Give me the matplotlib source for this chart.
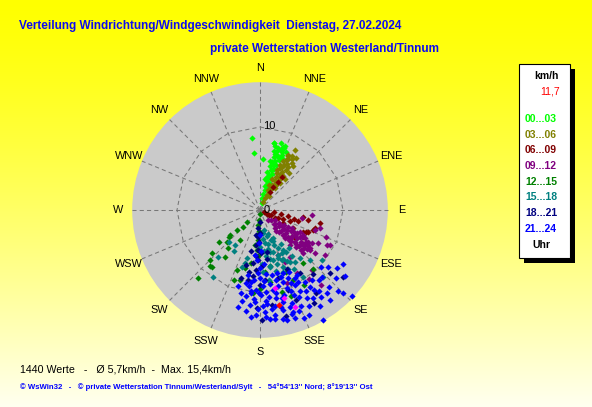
import numpy as np
import matplotlib
matplotlib.use("Agg")
import matplotlib.pyplot as plt
from matplotlib.patches import Circle, Rectangle
from matplotlib import font_manager

# ---------------- data (direction in degrees from N, speed in km/h) ----------------
COMPASS = ["N", "NNE", "NE", "ENE", "E", "ESE", "SE", "SSE",
           "S", "SSW", "SW", "WSW", "W", "WNW", "NW", "NNW"]
PERIODS = ["00...03", "03...06", "06...09", "09...12",
           "12...15", "15...18", "18...21", "21...24"]
PERIOD_COLORS = ["#00ff00", "#808000", "#800000", "#800080",
                 "#008000", "#008080", "#000080", "#0000ff"]

DIR_00_03 = [10,14,12,16,13,17,14,18,15,19,16,20,17,21,15,18,22,16,19,13,
             20,12,17,21,15,11,13,11,9,23,24,354,354,3,21,12,16,8,19,14,
             12,17,14,19,16,21,18,13]
SPD_00_03 = [2.0,2.5,3.0,3.2,3.6,4.0,4.3,4.6,5.0,5.2,5.6,5.8,6.2,6.4,6.6,6.9,7.2,7.4,7.7,7.9,
             8.1,8.3,8.5,8.0,7.0,6.0,5.4,4.7,3.8,6.8,7.6,8.7,6.9,6.2,8.3,8.2,0.9,1.5,2.8,6.0,
             4.1,5.0,5.9,6.7,7.8,7.5,3.4,7.3]

DIR_03_06 = [18,22,25,28,22,30,25,32,27,22,33,29,24,34,30,26,33,28,31,25,
             34,29,27,32,30,37,39,27,27,35,38,36,20,24,31,35,26,31,
             29,33,28,31,23]
SPD_03_06 = [1.0,1.5,2.0,2.4,2.6,3.0,3.3,3.6,3.9,4.0,4.3,4.6,4.9,5.0,5.3,5.6,5.8,6.1,6.4,6.5,
             6.8,7.0,7.3,7.2,8.4,6.6,4.8,7.5,5.8,7.6,5.6,4.0,3.2,6.0,2.0,3.2,4.4,5.0,
             3.5,6.2,6.8,7.6,5.2]

DIR_06_09 = [115,117,115,118,98,101,102,105,106,102,108,115,122,99,102,111,117,129,119,116,
             112,120,110,30,32,34,28,113,118]
SPD_06_09 = [0.5,1.0,1.5,2.0,1.7,2.6,3.4,4.2,4.8,5.9,7.0,6.4,6.1,5.2,7.4,6.8,5.8,5.4,4.5,6.1,
             3.0,3.2,3.8,3.2,4.0,4.8,2.5,2.4,1.2]

DIR_09_12 = [141,130,124,135,140,124,130,121,135,128,137,121,131,125,134,122,129,135,122,127,
             132,123,128,130,122,125,129,124,133,136,138,126,133,120,126,131,
             127,132,126,128,132,124,136,139,120,123,127,130,134,119,140,144,
             95,101,107,117,125,128,135,147,141,150,139,118,120,129,158,154,110,112,145,160]
SPD_09_12 = [1.5,1.8,2.2,2.4,2.8,2.8,3.0,3.4,3.5,3.7,4.1,3.9,4.2,4.5,4.7,4.9,5.0,5.3,5.3,5.6,
             5.7,6.0,6.2,6.4,6.4,6.7,6.8,7.0,6.0,5.0,4.5,3.3,2.5,4.4,7.2,7.0,
             4.0,5.0,5.2,6.6,6.4,5.8,6.2,5.6,6.0,7.4,7.6,7.4,6.9,5.5,3.5,3.2,
             6.3,5.1,7.5,9.4,9.5,8.4,7.3,6.7,11.6,8.8,9.6,9.1,8.0,7.7,5.8,7.0,7.0,8.6,10.2,9.4]

DIR_12_15 = [227,225,229,230,226,220,228,225,222,222,201,217,196,185,229,214,232,220,
             185,184,186,183,187,184,188,185,183,
             157,141,138,155,172,165,190,195,175,170,200,180,160,150]
SPD_12_15 = [2.1,2.9,3.7,4.7,5.5,6.0,7.8,8.5,9.0,11.1,7.7,7.1,8.8,10.0,5.0,4.3,6.3,9.0,
             0.5,1.2,1.8,2.5,3.0,3.6,4.2,4.8,5.5,
             8.1,8.2,9.5,9.3,8.8,10.2,6.5,7.2,7.5,6.8,9.0,9.5,11.0,10.5]

DIR_15_18 = [224,222,215,216,196,170,156,150,129,137,147,155,173,212,198,195,
             170,165,160,172,158,168,155,163,150,172,158,165,148,155,162,170,152,158,145,165,
             175,178,167,175,180,177,160,150,
             162,157,148,153,143,160,168,166,146,155,163,140,135,173]
SPD_15_18 = [5.3,7.6,9.9,5.2,6.6,7.0,6.6,7.2,9.6,11.1,9.6,3.7,2.8,5.8,7.2,6.0,
             2.5,3.2,3.8,4.0,4.5,4.8,5.0,5.3,5.5,5.6,5.9,6.2,6.0,6.5,6.8,6.9,7.0,7.4,6.8,7.6,
             5.0,6.5,4.2,3.5,4.5,7.5,8.0,8.2,
             3.0,4.1,4.8,5.8,5.8,6.2,6.0,5.2,7.5,7.9,8.4,7.5,8.5,8.5]

DIR_18_21 = [182,185,180,184,181,186,183,179,185,182,188,178,184,190,186,176,192,189,194,180,
             196,172,179,166,150,129,190,171,132,148,146,158,173,161,182,165,155,140]
SPD_18_21 = [1.5,2.2,2.8,3.3,3.8,4.3,4.8,5.2,5.6,6.0,6.4,6.8,7.2,7.6,8.0,8.4,5.0,3.0,6.8,9.0,
             8.5,6.0,13.3,13.1,12.9,12.9,8.6,5.1,11.4,9.0,12.1,11.7,11.5,10.2,11.8,8.5,7.8,10.0]

DIR_21_24 = [190,185,180,175,170,165,160,155,150,188,183,178,172,167,162,157,152,148,
             189,184,179,174,169,164,159,154,150,186,181,176,171,166,161,156,152,
             182,177,172,167,162,157,175,168,163,172,
             187,177,167,158,181,171,161,176,166,186,
             191,186,176,163,153,147,158,173,168,163,178,183,188,159,153,149,144,141,170,182,
             191,155,143,137,133,
             193,162,158,150,148,142,136,133,123,130,127,135,138,146,193,196,145,140,132,128,
             185,177,166,155,
             180,182,178,184,180,176,186]
SPD_21_24 = [8.0,8.5,8.2,7.8,8.0,7.9,8.1,8.3,9.0,9.3,9.6,9.2,9.0,9.4,9.1,9.6,9.8,10.2,
             10.5,10.8,10.3,10.6,10.2,10.7,10.4,10.9,11.2,11.5,11.9,11.3,11.7,11.4,11.8,11.5,12.0,
             12.6,12.3,12.8,12.4,12.9,12.5,13.2,13.4,13.1,13.3,
             8.8,8.6,8.7,8.9,10.0,9.7,9.9,11.0,10.9,10.1,
             9.0,9.8,9.9,8.5,9.2,11.0,11.0,12.0,11.9,12.2,11.6,11.1,12.3,13.0,13.0,12.3,12.0,12.8,10.8,7.6,
             11.2,10.0,10.5,11.0,10.0,
             12.0,13.7,14.0,15.3,13.7,13.7,13.5,15.2,11.9,10.7,11.6,14.1,12.5,11.6,10.3,9.5,12.8,11.0,12.3,13.0,
             13.0,12.9,13.6,14.0,
             3.0,4.0,5.0,6.0,7.0,6.5,5.5]

DIR_LATEST = [169, 165, 160]
SPD_LATEST = [9.6, 11.0, 12.5]
DIR_NOW = [169]
SPD_NOW = [11.7]

GROUPS = [(DIR_00_03, SPD_00_03), (DIR_03_06, SPD_03_06), (DIR_06_09, SPD_06_09),
          (DIR_09_12, SPD_09_12), (DIR_12_15, SPD_12_15), (DIR_15_18, SPD_15_18),
          (DIR_18_21, SPD_18_21), (DIR_21_24, SPD_21_24)]

R_MAX = 15.4
RING = 10
N_VALUES = 1440
MEAN_SPEED = "5,7"
MAX_SPEED = "15,4"
NOW_SPEED = "11,7"

TITLE = "Verteilung Windrichtung/Windgeschwindigkeit  Dienstag, 27.02.2024"
SUBTITLE = "private Wetterstation Westerland/Tinnum"
FOOTER = ("\u00a9 WsWin32   -   \u00a9 private Wetterstation Tinnum/Westerland/Sylt   -   "
          "54\u00b054'13'' Nord; 8\u00b019'13'' Ost")

# ---------------- fonts ----------------
avail = {f.name for f in font_manager.fontManager.ttflist}
def pick(names):
    for n in names:
        if n in avail:
            return n
    return "DejaVu Sans"
SANS = pick(["Liberation Sans", "Arimo", "DejaVu Sans"])

# ---------------- figure ----------------
W, H = 592, 407
fig = plt.figure(figsize=(W / 100, H / 100), dpi=100)

bg = fig.add_axes([0, 0, 1, 1])
bg.set_xlim(0, W)
bg.set_ylim(H, 0)
bg.set_axis_off()
t = np.linspace(0, 1, 256)[:, None]
grad = np.zeros((256, 1, 3))
grad[..., 0] = 1.0
grad[..., 1] = 1.0
grad[..., 2] = 0.94 * t ** 1.3
bg.imshow(grad, extent=[0, W, H, 0], aspect="auto", zorder=0, interpolation="bilinear")

# titles
bg.text(19, 25.5, TITLE, color="#0c0cf0", fontsize=8.45, fontweight="bold",
        family=SANS, ha="left", va="center")
bg.text(210, 49, SUBTITLE, color="#0c0cf0", fontsize=8.45, fontweight="bold",
        family=SANS, ha="left", va="center")

# bottom texts
bg.text(20, 370, f"{N_VALUES} Werte   -   \u00d8 {MEAN_SPEED}km/h  -  Max. {MAX_SPEED}km/h",
        color="black", fontsize=7.7, family=SANS, ha="left", va="center")
bg.text(20, 387, FOOTER, color="#0000ff", fontsize=5.6, fontweight="bold",
        family=SANS, ha="left", va="center")

# legend box
bg.add_patch(Rectangle((524, 69), 51, 194, facecolor="black", edgecolor="none", zorder=2))
bg.add_patch(Rectangle((519, 64), 51, 194, facecolor="white", edgecolor="black",
                       linewidth=0.8, zorder=3))
bg.text(546, 76, "km/h", color="black", fontsize=7.5, fontweight="bold",
        family=SANS, ha="center", va="center", zorder=4)
bg.text(550, 92, NOW_SPEED, color="#ff0000", fontsize=7.5, family=SANS,
        ha="center", va="center", zorder=4)
ys = [119.5, 134.5, 150, 166, 182, 197.5, 213.5, 229.5]
for lab, col, yy in zip(PERIODS, PERIOD_COLORS, ys):
    bg.text(541, yy, lab, color=col, fontsize=7.5, fontweight="bold",
            family=SANS, ha="center", va="center", zorder=4)
bg.text(541, 245.5, "Uhr", color="black", fontsize=7.5, fontweight="bold",
        family=SANS, ha="center", va="center", zorder=4)

# ---------------- polar plot in a cartesian axes ----------------
PX = 8.3          # pixels per km/h
CX, CY = 260, 210
HALF = 150
ax = fig.add_axes([(CX - HALF) / W, (H - CY - HALF) / H, 2 * HALF / W, 2 * HALF / H])
L = HALF / PX
ax.set_xlim(-L, L)
ax.set_ylim(-L, L)
ax.set_axis_off()
ax.patch.set_alpha(0)

ax.add_patch(Circle((0, 0), R_MAX, facecolor="#cacaca", edgecolor="none", zorder=1))

ang = np.deg2rad(np.arange(16) * 22.5)
for a in ang:
    ax.plot([0, R_MAX * np.sin(a)], [0, R_MAX * np.cos(a)], color="#777777",
            lw=0.75, ls=(0, (4, 3)), zorder=2)
ring_a = np.append(ang, ang[0])
ax.plot(RING * np.sin(ring_a), RING * np.cos(ring_a), color="#777777",
        lw=0.75, ls=(0, (4, 3)), zorder=2)

ax.text(0.35, RING + 0.15, str(RING), fontsize=8, family=SANS, color="black",
        ha="left", va="center", zorder=6)
ax.text(0.45, 0.0, "0", fontsize=8, family=SANS, color="black",
        ha="left", va="center", zorder=6)

R_LAB = 17.1
for name, a in zip(COMPASS, ang):
    ax.text(R_LAB * np.sin(a), R_LAB * np.cos(a), name, fontsize=7.8, family=SANS,
            color="black", ha="center", va="center", zorder=6)

def xy(d, s):
    d = np.deg2rad(np.asarray(d, float))
    s = np.asarray(s, float)
    return s * np.sin(d), s * np.cos(d)

for (d, s), col in zip(GROUPS, PERIOD_COLORS):
    x, y = xy(d, s)
    ax.scatter(x, y, s=10, marker="D", color=col, linewidths=0, zorder=3)
x, y = xy(DIR_LATEST, SPD_LATEST)
ax.scatter(x, y, s=10, marker="D", color="#ff00ff", linewidths=0, zorder=4)
x, y = xy(DIR_NOW, SPD_NOW)
ax.scatter(x, y, s=11, marker="D", color="#ff0000", linewidths=0, zorder=4)

fig.savefig("out.png", dpi=100)
